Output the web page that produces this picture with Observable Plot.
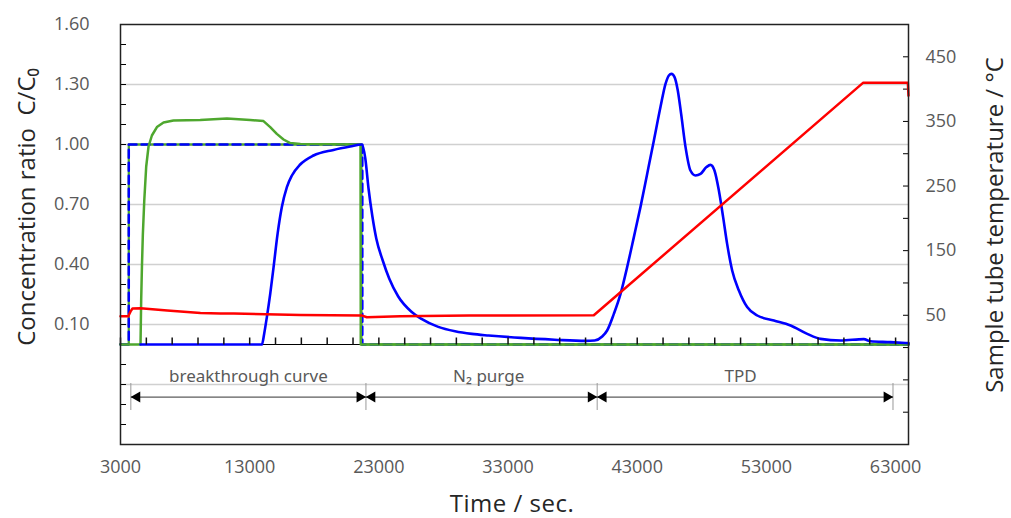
<!DOCTYPE html>
<html>
<head>
<meta charset="utf-8">
<script src="https://cdn.jsdelivr.net/npm/d3@7"></script>
<script src="https://cdn.jsdelivr.net/npm/@observablehq/plot@0.6"></script>
<style>
  html, body { margin: 0; padding: 0; background: #fff; }
  #chart { width: 1011px; height: 518px; }
</style>
</head>
<body>
<div id="chart"></div>
<script>
// ---------- data ----------
const xDomain = [3000, 64000];
const cDomain = [-0.5, 1.6];
const tDomain = [-150, 500];

const xLabelTicks = [3000, 13000, 23000, 33000, 43000, 53000, 63000];
const xMinorTicks = d3.range(3000, 64001, 2000);
const xTickLen = 0.035; // in C units (about 7 px)
const cLabelTicks = [0.10, 0.40, 0.70, 1.00, 1.30, 1.60];
const cGridTicks = [-0.2, 0.1, 0.4, 0.7, 1.0, 1.3];
const cMinorTicks = d3.range(-5, 17).map(i => i / 10);
const tLabelTicks = [50, 150, 250, 350, 450];
const tMinorTicks = d3.range(-150, 501, 50);

// inlet (feed) concentrations
const greenInTime = [3000, 3640, 3641, 21650, 21651, 64000];
const greenInC    = [0, 0, 1.0, 1.0, 0, 0];
const blueInTime  = [3000, 3640, 3641, 21720, 21721, 64000];
const blueInC     = [0, 0, 1.0, 1.0, 0, 0];

// outlet green component
const greenOutTime = [3000, 4550, 4600, 4660, 4730, 4840, 4990, 5170, 5430, 5820, 6330, 7100, 9170, 11240, 13040, 14070, 14590, 15100, 15620, 16140, 16930, 21580, 21600, 64000];
const greenOutC    = [0, 0, 0.22, 0.39, 0.55, 0.72, 0.89, 0.99, 1.045, 1.087, 1.11, 1.12, 1.123, 1.13, 1.123, 1.117, 1.087, 1.053, 1.025, 1.007, 1.003, 1.0, 0, 0];

// outlet blue component (breakthrough, purge, TPD)
const blueOutTime = [4550, 13950, 14120, 14330, 14590, 14850, 15160, 15490, 15880, 16270, 16910, 17940, 19490, 20780, 21700,
  21950, 22200, 22500, 22800, 23300, 23800, 24500, 25500, 26300, 27600, 28900, 30200, 31500, 34000, 36600, 39000, 39700,
  40290, 40670, 41190, 41710, 42220, 42740, 43250, 43770, 44290, 44800, 45190, 45450, 45650, 45890, 46140, 46400, 46740,
  47120, 47510, 47900, 48360, 48670, 48980, 49320, 49650, 49960, 50350, 50870, 51510, 52290, 53580, 54870, 56160, 57190,
  58740, 60540, 61060, 62610, 64000];
const blueOutC = [0, 0, 0.053, 0.137, 0.253, 0.387, 0.553, 0.687, 0.787, 0.845, 0.9, 0.945, 0.973, 0.99, 1.0,
  0.93, 0.78, 0.64, 0.53, 0.42, 0.33, 0.24, 0.165, 0.128, 0.088, 0.066, 0.053, 0.045, 0.033, 0.024, 0.018, 0.02,
  0.04, 0.07, 0.153, 0.253, 0.387, 0.537, 0.687, 0.853, 1.02, 1.187, 1.303, 1.345, 1.353, 1.337, 1.27, 1.153, 0.987,
  0.87, 0.845, 0.853, 0.887, 0.898, 0.87, 0.77, 0.637, 0.503, 0.37, 0.27, 0.187, 0.145, 0.12, 0.095, 0.053, 0.028,
  0.02, 0.027, 0.016, 0.012, 0.007];

// sample tube temperature (°C, right axis)
const tempTime = [3000, 3600, 3780, 3930, 4550, 6615, 9190, 10740, 11770, 16930, 21710, 22070, 24650, 30000, 39640, 60500, 63950, 64000];
const tempC    = [48.5, 48.5, 56, 60.5, 61, 57.3, 53.6, 52.6, 52.6, 50.5, 49.5, 46.9, 48.4, 49.5, 50, 410, 410, 390];

// stage annotations
const stageBounds = [3800, 22000, 39900, 62800];
const stageNames  = ["breakthrough curve", "N₂ purge", "TPD"];
const stageCenters = [12900, 31500, 51000];
const stageTextC = -0.16;
const arrowC = -0.263;
const boundTopC = -0.195;
const boundBottomC = -0.33;

// ---------- helpers ----------
const tToC = t => cDomain[0] + (t - tDomain[0]) * (cDomain[1] - cDomain[0]) / (tDomain[1] - tDomain[0]);
const cToT = c => tDomain[0] + (c - cDomain[0]) * (tDomain[1] - tDomain[0]) / (cDomain[1] - cDomain[0]);
const zip = (xs, ys) => xs.map((x, i) => ({x, y: ys[i]}));

const greenIn = zip(greenInTime, greenInC);
const blueIn = zip(blueInTime, blueInC);
const greenOut = zip(greenOutTime, greenOutC);
const blueOut = zip(blueOutTime, blueOutC);
const temp = zip(tempTime, tempC.map(tToC));
const xTicksData = xMinorTicks.map(x => ({x, y1: 0, y2: xTickLen}));

const segs = stageNames.map((n, i) => ({x1: stageBounds[i], x2: stageBounds[i + 1]}));
const headsRight = segs.map(s => s.x2);
const headsLeft = segs.map(s => s.x1);

const GREEN = "#4ea72e";
const BLUE = "#0000ff";
const RED = "#ff0000";
const LABEL_FONT = {fontSize: 18, letterSpacing: "0.8px"};

const plot = Plot.plot({
  width: 1011,
  height: 518,
  marginLeft: 120,
  marginRight: 103,
  marginTop: 24,
  marginBottom: 74,
  style: {fontFamily: "Open Sans, sans-serif", fontSize: "18px", color: "#595959", background: "#fff"},
  x: {domain: xDomain},
  y: {domain: cDomain},
  marks: [
    Plot.gridY(cGridTicks, {stroke: "#d0d0d0", strokeOpacity: 1, strokeWidth: 1.3}),
    // stage annotation
    Plot.ruleX(stageBounds, {y1: boundTopC, y2: boundBottomC, stroke: "#999", strokeWidth: 1}),
    Plot.link(segs, {x1: "x1", x2: "x2", y1: arrowC, y2: arrowC, stroke: "#333", strokeWidth: 1}),
    Plot.dot(headsRight, {x: d => d, y: arrowC, symbol: "triangle", r: 4.1, fill: "#000", stroke: "none", rotate: 90, dx: -6.2}),
    Plot.dot(headsLeft, {x: d => d, y: arrowC, symbol: "triangle", r: 4.1, fill: "#000", stroke: "none", rotate: -90, dx: 6.2}),
    Plot.text(stageNames, {x: (d, i) => stageCenters[i], y: stageTextC, text: d => d, fill: "#595959",
      fontFamily: "Noto Sans, sans-serif", fontSize: 17}),
    // axes
    Plot.axisX(xLabelTicks, {anchor: "bottom", tickSize: 0, tickPadding: 16, tickFormat: d => String(d), label: null, ...LABEL_FONT}),
    Plot.axisY(cLabelTicks, {anchor: "left", tickSize: 0, tickPadding: 31, tickFormat: d => d.toFixed(2), label: null, ...LABEL_FONT}),
    Plot.axisY(cMinorTicks, {anchor: "left", tickSize: 6, dx: 6, tickFormat: () => "", label: null, stroke: "#000"}),
    Plot.axisY(tLabelTicks.map(tToC), {anchor: "right", tickSize: 0, tickPadding: 17, tickFormat: d => String(Math.round(cToT(d))), label: null, ...LABEL_FONT}),
    Plot.axisY(tMinorTicks.map(tToC), {anchor: "right", tickSize: 6, dx: -6, tickFormat: () => "", label: null, stroke: "#000"}),
    Plot.ruleY([0], {stroke: "#000", strokeWidth: 1.2}),
    // series
    Plot.line(greenIn, {x: "x", y: "y", stroke: GREEN, strokeWidth: 2.3}),
    Plot.line(blueIn, {x: "x", y: "y", stroke: BLUE, strokeWidth: 2.5, strokeDasharray: "8,5"}),
    Plot.line(greenOut, {x: "x", y: "y", stroke: GREEN, strokeWidth: 2.5}),
    Plot.line(blueOut, {x: "x", y: "y", stroke: BLUE, strokeWidth: 2.6, curve: "monotone-x"}),
    Plot.line(temp, {x: "x", y: "y", stroke: RED, strokeWidth: 2.5}),
    Plot.link(xTicksData, {x1: "x", x2: "x", y1: "y1", y2: "y2", stroke: "#111", strokeWidth: 1.5}),
    Plot.frame({stroke: "#222", strokeWidth: 1.5})
  ]
});

const svg = d3.select(plot);
svg.append("text")
  .attr("transform", "translate(29,207) rotate(-90)")
  .attr("text-anchor", "middle").attr("dominant-baseline", "middle")
  .attr("font-family", "Open Sans, sans-serif").attr("font-size", 24).attr("fill", "#262626")
  .text("Concentration ratio  C/C₀");
svg.append("text")
  .attr("transform", "translate(997,225) rotate(-90)")
  .attr("text-anchor", "middle").attr("dominant-baseline", "middle")
  .attr("font-family", "Open Sans, sans-serif").attr("font-size", 24).attr("fill", "#262626")
  .text("Sample tube temperature / °C");
svg.append("text")
  .attr("x", 512).attr("y", 506)
  .attr("text-anchor", "middle").attr("dominant-baseline", "middle")
  .attr("font-family", "Open Sans, sans-serif").attr("font-size", 24).attr("letter-spacing", "0.5px").attr("fill", "#262626")
  .text("Time / sec.");

document.getElementById("chart").appendChild(plot);
</script>
</body>
</html>
